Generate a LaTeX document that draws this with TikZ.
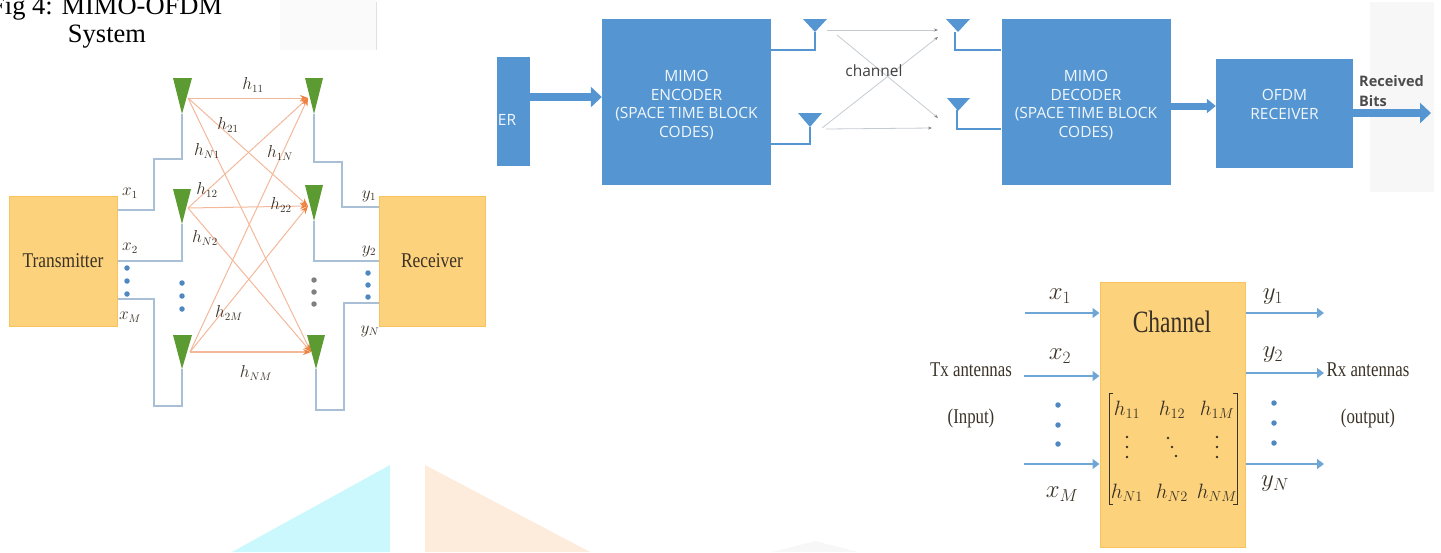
\documentclass[tikz,border=0pt]{standalone}
\usepackage{amsmath}
\usepackage{fontspec}
\setmainfont{Liberation Serif}
\newfontfamily\boxfont{Open Sans}
\usetikzlibrary{arrows.meta}
\definecolor{boxblue}{HTML}{5596D2}
\definecolor{boxorange}{HTML}{FDD27C}
\definecolor{edgeorange}{HTML}{F9C25E}
\definecolor{antgreen}{HTML}{5C9A32}
\definecolor{wirecol}{HTML}{A9BFD6}
\definecolor{pathcol}{HTML}{F3B89A}
\definecolor{tipcol}{HTML}{EE8040}
\definecolor{arrowcol}{HTML}{6FA6D6}
\definecolor{dotblue}{HTML}{4F87C0}
\definecolor{chancol}{HTML}{C4CBD2}
\definecolor{inktext}{HTML}{3A3226}
\definecolor{markcyan}{HTML}{CBF8FC}
\definecolor{markorange}{HTML}{FDEBDC}
\tikzset{
	bluebox/.style={fill=boxblue, text=white!92!boxblue, inner sep=0pt, font=\boxfont\fontsize{15.5}{18.5}\selectfont, align=center},
	orangebox/.style={fill=boxorange, draw=edgeorange, line width=1pt, inner sep=0pt, text=inktext},
	wire/.style={draw=wirecol, line width=1.3pt},
	pathline/.style={draw=pathcol, line width=1pt},
	pathtip/.style={pathline, -{Stealth[length=8pt,width=6pt,color=tipcol]}},
	feed/.style={draw=boxblue, line width=2.8pt},
	thickarrow/.style={draw=boxblue, line width=8pt, -{Triangle[length=11pt,width=20pt]}},
	chanline/.style={draw=chancol, line width=0.8pt},
	chantip/.style={chanline, -{Stealth[length=4pt,width=3pt,color=gray]}},
	portarrow/.style={draw=arrowcol, line width=1.5pt, -{Triangle[length=7pt,width=10pt]}},
	smalllab/.style={inner sep=0pt, text=inktext, font=\fontsize{16}{18}\selectfont},
	biglab/.style={inner sep=0pt, text=inktext, font=\fontsize{23}{26}\selectfont},
	sidelab/.style={inner sep=0pt, text=inktext, font=\fontsize{21}{24}\selectfont},
	matlab/.style={inner sep=0pt, text=inktext, font=\fontsize{21}{24}\selectfont},
	dotmark/.style={circle, fill=dotblue, inner sep=0pt, minimum size=5.5pt},
	matdot/.style={circle, fill=inktext, inner sep=0pt, minimum size=2.6pt}
}
\begin{document}
\begin{tikzpicture}[x=1pt,y=-1pt]
	\useasboundingbox (0,0) rectangle (1441,552);
	\clip (0,0) rectangle (1441,552);

	% faint patches behind the pictures
	\fill[black!2] (280,0) rectangle (376,50);
	\draw[black!12, line width=0.6pt] (376.5,2) -- (376.5,50);
	\fill[black!3] (1370,2) rectangle (1434,192);
	\fill[markcyan] (232,552) -- (390,465) -- (390,552) -- cycle;
	\fill[markorange] (425,465) -- (425,552) -- (590,552) -- cycle;
	\fill[black!3] (772,552) -- (815,541) -- (858,552) -- cycle;

	\node[anchor=west, inner sep=0pt, font=\fontsize{26.5}{30}\selectfont] (figtitle) at (-10,9) {Fig 4: MIMO-OFDM};
	\node[inner sep=0pt, font=\fontsize{26.5}{30}\selectfont] (figsystem) at (107,37) {System};

	% transmitter and receiver
	\node[orangebox, minimum width=108pt, minimum height=130pt, font=\fontsize{21}{24}\selectfont] (trans) at (63,261) {\scalebox{0.83}[1]{Transmitter}};
	\node[orangebox, minimum width=106pt, minimum height=130pt, font=\fontsize{21}{24}\selectfont] (recv) at (432,261) {\scalebox{0.83}[1]{Receiver}};

	\coordinate (txa) at (182,114);
	\coordinate (txb) at (182,224);
	\coordinate (txc) at (182,369);
	\coordinate (rxa) at (314,114);
	\coordinate (rxb) at (314,221);
	\coordinate (rxc) at (316,369);
	\coordinate (txaout) at (188,98);
	\coordinate (txbout) at (188,208);
	\coordinate (txcout) at (190,352);
	\coordinate (rxain) at (308,98);
	\coordinate (rxbin) at (308,206);
	\coordinate (rxcin) at (311,352);

	\draw[wire] (trans.east |- 0,210) -- (154,210) -- (154,159) -- (182,159) -- (txa);
	\draw[wire] (trans.east |- 0,261) -- (182,261) -- (txb);
	\draw[wire] (trans.east |- 0,299) -- (154,299) -- (154,406) -- (182,406) -- (txc);
	\draw[wire] (recv.west |- 0,207) -- (342,207) -- (342,162) -- (314,162) -- (rxa);
	\draw[wire] (recv.west |- 0,261) -- (314,261) -- (rxb);
	\draw[wire] (recv.west |- 0,303) -- (344,303) -- (344,410) -- (316,410) -- (rxc);

	\draw[pathtip] (txaout) -- (rxain);
	\draw[pathtip] (txaout) -- (rxbin);
	\draw[pathtip] (txaout) -- (rxcin);
	\draw[pathtip] (txbout) -- (rxain);
	\draw[pathtip] (txbout) -- (rxbin);
	\draw[pathtip] (txbout) -- (rxcin);
	\draw[pathtip] (txcout) -- (rxain);
	\draw[pathtip] (txcout) -- (rxbin);
	\draw[pathtip, line width=1.5pt] (txcout) -- (rxcin);

	\fill[antgreen] (173,78) -- (192,78) -- (txa) -- cycle;
	\fill[antgreen] (173,189) -- (191,189) -- (txb) -- cycle;
	\fill[antgreen] (173,335) -- (192,335) -- (txc) -- cycle;
	\fill[antgreen] (305,78) -- (323,78) -- (rxa) -- cycle;
	\fill[antgreen] (305,185) -- (323,185) -- (rxb) -- cycle;
	\fill[antgreen] (307,335) -- (325,335) -- (rxc) -- cycle;

	\node[smalllab] (labhaa) at (253,85) {$h_{11}$};
	\node[smalllab] (labhba) at (228,125) {$h_{21}$};
	\node[smalllab] (labhna) at (207,151) {$h_{N1}$};
	\node[smalllab] (labham) at (280,153) {$h_{1N}$};
	\node[smalllab] (labhab) at (207,190) {$h_{12}$};
	\node[smalllab] (labhbb) at (281,205) {$h_{22}$};
	\node[smalllab] (labhnb) at (205,238) {$h_{N2}$};
	\node[smalllab] (labhbm) at (229,313) {$h_{2M}$};
	\node[smalllab] (labhnm) at (256,373) {$h_{NM}$};
	\node[smalllab] (labxa) at (130,193) {$x_1$};
	\node[smalllab] (labxb) at (130,248) {$x_2$};
	\node[smalllab] (labxm) at (130,317) {$x_M$};
	\node[smalllab] (labya) at (369,196) {$y_1$};
	\node[smalllab] (labyb) at (369,251) {$y_2$};
	\node[smalllab] (labyn) at (370,331) {$y_N$};

	\node[dotmark] (dotaa) at (127,268) {};
	\node[dotmark] (dotab) at (127,281) {};
	\node[dotmark] (dotac) at (127,294) {};
	\node[dotmark] (dotba) at (182,283) {};
	\node[dotmark] (dotbb) at (182,296) {};
	\node[dotmark] (dotbc) at (182,309) {};
	\node[dotmark, fill=gray] (dotca) at (314,280) {};
	\node[dotmark, fill=gray] (dotcb) at (314,292) {};
	\node[dotmark, fill=gray] (dotcc) at (314,304) {};
	\node[dotmark] (dotda) at (368,273) {};
	\node[dotmark] (dotdb) at (368,285) {};
	\node[dotmark] (dotdc) at (368,297) {};

	% encoder to receiver chain
	\node[bluebox, minimum width=33pt, minimum height=109pt] (stub) at (513.5,111.5) {};
	\node[inner sep=0pt, text=white!92!boxblue, font=\boxfont\fontsize{15.5}{18}\selectfont] (stubtext) at (507,120) {ER};
	\node[bluebox, minimum width=169pt, minimum height=166pt] (encoder) at (686.5,102) {\rule{0pt}{17pt}MIMO\\ENCODER\\(SPACE TIME BLOCK\\CODES)};
	\node[bluebox, minimum width=169pt, minimum height=166pt] (decoder) at (1086,102) {\rule{0pt}{17pt}MIMO\\DECODER\\(SPACE TIME BLOCK\\CODES)};
	\node[bluebox, minimum width=137pt, minimum height=109pt] (ofdm) at (1284.5,113.5) {OFDM\\RECEIVER\\~};

	\coordinate (outend) at (1431,113);
	\coordinate (ataa) at (815,32);
	\coordinate (atab) at (810,127);
	\coordinate (atba) at (955,32);
	\coordinate (atbb) at (957,110);

	\draw[thickarrow] (stub.east |- 0,97) -- (encoder.west |- 0,97);
	\draw[thickarrow, line width=7pt, -{Triangle[length=9pt,width=14pt]}] (decoder.east |- 0,106) -- (ofdm.west |- 0,106);
	\draw[thickarrow] (ofdm.east |- outend) -- (outend);

	\draw[feed] (encoder.east |- 0,50) -- (ataa |- 0,50) -- (ataa);
	\draw[feed] (encoder.east |- 0,144) -- (atab |- 0,144) -- (atab);
	\draw[feed] (decoder.west |- 0,50) -- (atba |- 0,50) -- (atba);
	\draw[feed] (decoder.west |- 0,129) -- (atbb |- 0,129) -- (atbb);
	\fill[boxblue] (803,19) -- (827,19) -- (815,32) -- cycle;
	\fill[boxblue] (798,113) -- (822,113) -- (810,127) -- cycle;
	\fill[boxblue] (946,19) -- (970,19) -- (958,32) -- cycle;
	\fill[boxblue] (947,98) -- (970,98) -- (958,111) -- cycle;

	\coordinate (chaa) at (827,30);
	\coordinate (chab) at (938,30);
	\coordinate (chba) at (837,35);
	\coordinate (chbb) at (938,118);
	\coordinate (chca) at (822,128);
	\coordinate (chcb) at (938,37);
	\coordinate (chda) at (826,129);
	\coordinate (chdb) at (932,128);
	\draw[chantip] (chaa) -- (chab);
	\draw[chantip] (chba) -- (chbb);
	\draw[chantip] (chca) -- (chcb);
	\draw[chantip] (chda) -- (chdb);
	\node[inner sep=0pt, text=black!75, font=\boxfont\fontsize{15.5}{18}\selectfont] (chanlab) at (874,71) {channel};
	\node[anchor=west, inner sep=0pt, text=black!70, align=left, font=\boxfont\bfseries\fontsize{14.5}{20}\selectfont] (recbits) at (1359,91) {Received\\Bits};

	% channel matrix block
	\node[orangebox, minimum width=145pt, minimum height=265pt] (chanbox) at (1172.5,415) {};
	\node[inner sep=0pt, text=inktext, font=\fontsize{31}{34}\selectfont] (chantitle) at (1172,322) {\scalebox{0.76}[1]{Channel}};

	\node[matlab] (haa) at (1127,410) {$h_{11}$};
	\node[matlab] (hab) at (1172,410) {$h_{12}$};
	\node[matlab] (ham) at (1217,410) {$h_{1M}$};
	\node[matlab] (hna) at (1127,493) {$h_{N1}$};
	\node[matlab] (hnb) at (1172,493) {$h_{N2}$};
	\node[matlab] (hnm) at (1217,493) {$h_{NM}$};
	\node[matdot] (vaa) at (1127,437) {};
	\node[matdot] (vab) at (1127,447) {};
	\node[matdot] (vac) at (1127,457) {};
	\node[matdot] (vba) at (1168,438) {};
	\node[matdot] (vbb) at (1172,447) {};
	\node[matdot] (vbc) at (1176,456) {};
	\node[matdot] (vca) at (1217,437) {};
	\node[matdot] (vcb) at (1217,447) {};
	\node[matdot] (vcc) at (1217,457) {};
	\draw[inktext, line width=1pt] (1113,393) -- (1109,393) -- (1109,504) -- (1113,504);
	\draw[inktext, line width=1pt] (1233,393) -- (1237,393) -- (1237,504) -- (1233,504);

	\coordinate (ina) at (1025,313);
	\coordinate (inb) at (1024,376);
	\coordinate (inc) at (1024,464);
	\coordinate (outa) at (1324,313);
	\coordinate (outb) at (1324,373);
	\coordinate (outc) at (1324,464);
	\draw[portarrow] (ina) -- (chanbox.west |- ina);
	\draw[portarrow] (inb) -- (chanbox.west |- inb);
	\draw[portarrow] (inc) -- (chanbox.west |- inc);
	\draw[portarrow] (chanbox.east |- outa) -- (outa);
	\draw[portarrow] (chanbox.east |- outb) -- (outb);
	\draw[portarrow] (chanbox.east |- outc) -- (outc);

	\node[biglab] (labinxa) at (1060,296) {$x_1$};
	\node[biglab] (labinxb) at (1060,356) {$x_2$};
	\node[biglab] (labinxm) at (1062,494) {$x_M$};
	\node[biglab] (laboutya) at (1273,297) {$y_1$};
	\node[biglab] (laboutyb) at (1273,355) {$y_2$};
	\node[biglab] (laboutyn) at (1275,484) {$y_N$};
	\node[sidelab] (txlab) at (971,370) {\scalebox{0.8}[1]{Tx antennas}};
	\node[sidelab] (inputlab) at (971,418) {\scalebox{0.8}[1]{(Input)}};
	\node[sidelab] (rxlab) at (1368,370) {\scalebox{0.8}[1]{Rx antennas}};
	\node[sidelab] (outputlab) at (1368,418) {\scalebox{0.8}[1]{(output)}};

	\node[dotmark] (dotea) at (1058,405) {};
	\node[dotmark] (doteb) at (1058,425) {};
	\node[dotmark] (dotec) at (1058,444) {};
	\node[dotmark] (dotfa) at (1274,403) {};
	\node[dotmark] (dotfb) at (1274,423) {};
	\node[dotmark] (dotfc) at (1274,443) {};
\end{tikzpicture}
\end{document}
